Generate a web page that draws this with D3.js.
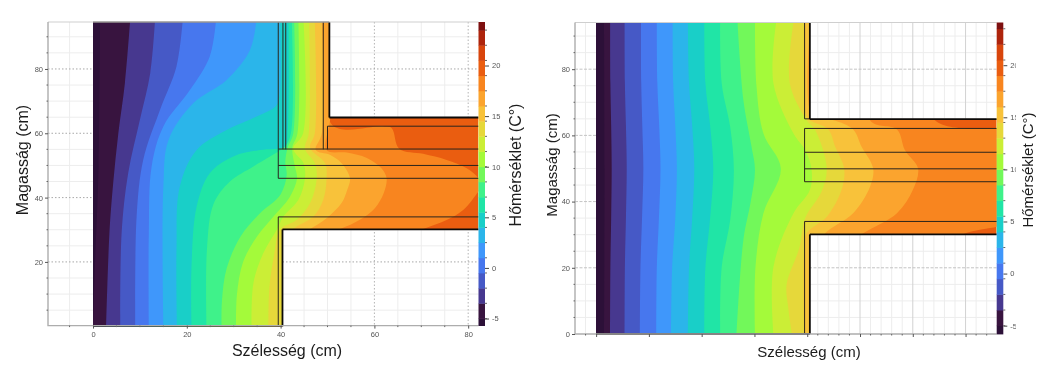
<!DOCTYPE html>
<html><head><meta charset="utf-8">
<script src="https://cdn.jsdelivr.net/npm/d3@7/dist/d3.min.js"></script>
<style>
html,body{margin:0;padding:0;background:#fff;overflow:hidden}
svg{display:block;filter:blur(0.4px)}
text{font-family:"Liberation Sans",Arial,sans-serif}
</style></head><body>
<svg id="chart" width="1046" height="366"></svg>
<script>
// ---------- values ----------
const xLabel = "Szélesség (cm)";
const yLabel = "Magasság (cm)";
const barLabel = "Hőmérséklet (C°)";
const xTickValues = [0,20,40,60,80];
const yTickValues = [20,40,60,80];
const yTickValuesRight = [0,20,40,60,80];
const barTickValues = [-5,0,5,10,15,20];
const isothermLevels = [-5,-3.5,-2,-0.5,1,2.5,4,5.5,7,8.5,10,11.5,13,14.5,16,17.5,19,20.5,22,23.5];
const bandColors = ["#2c1038","#38143f","#47388f","#4659c6","#4777ee","#3f97fb","#2bb5ea","#19cfc8","#20e5a6","#3ff28a","#72f85a","#a4fa3a","#cbee36","#e6d83a","#f8c23a","#fba42e","#f8851f","#ea5d10","#d8450c","#ae240c","#7d1010"];

const leftIsotherms = [
 [[1.5,94.7],[1.2,50],[0.4,18.6],[0,0]],
 [[7.9,94.7],[6.8,75.6],[5.4,60],[4.3,44.5],[3.5,29],[2.8,0]],
 [[13.2,94.7],[12.2,78.7],[10,64.2],[7.5,47.6],[6.1,29],[5.8,0]],
 [[19.1,94.7],[17.8,80.8],[14.3,67.3],[10.7,51.7],[9.3,34.1],[9,0]],
 [[26.2,94.7],[24.9,83.9],[20.7,73.5],[15,62.1],[12.5,49.7],[11.9,29],[11.9,0]],
 [[34.8,94.7],[33.5,86],[28.5,76.6],[21.4,69.4],[16.1,57.9],[15,43.4],[15,0]],
 [[39.9,94.7],[39.8,72],[39,68.5],[34.9,65.2],[28.5,61],[22.1,54.8],[18.5,43.4],[17.8,23.7],[17.9,0]],
 [[41.7,94.7],[41.5,60],[41,56],[35.6,54.8],[29.9,52.8],[24.9,47.6],[22.1,37.2],[21,18.6],[21,0]],
 [[42.4,94.7],[42.2,60],[41,56],[38,53],[34.2,49.7],[29.2,45],[25.7,38],[24.3,24],[24.2,0]],
 [[42.9,94.7],[42.7,60],[41.5,55.5],[41,51],[41.3,47],[40,41],[35.5,35],[31.5,28],[28.5,18],[27.5,8],[27.4,0]],
 [[43.8,94.7],[43.6,60],[42.5,55.5],[43,50],[43.5,46],[42,40.3],[38.4,34],[35,28],[32,20],[30.7,10],[30.5,0]],
 [[44.9,94.7],[44.8,60],[42.7,55.2],[44.9,50.7],[45.2,46],[43.8,39.3],[40.6,34.1],[39.2,30],[36.3,22.7],[34.2,13.4],[33.8,0]],
 [[46.1,94.7],[46,60],[45.2,55.2],[47.3,50.7],[47.7,46],[46.3,38.3],[43.4,33],[39.9,30],[38.6,22],[37.6,12],[37.4,0]],
 [[47.3,94.7],[47.3,60],[46.3,55.5],[49.5,50.7],[49.8,46],[49.1,39.3],[47,34.1],[42.7,30.2],[41.3,27],[41,10],[41,-5]],
 [[48.8,94.7],[48.8,60],[47.5,54.8],[50.5,53.3],[53,50.7],[54.8,46],[54.2,42.4],[53,38.3],[49.8,33.6],[46.3,30.2],[43,27],[42,20],[42,-5]],
 [[50.6,100],[50.6,65],[49.8,54.8],[54.1,54],[58.4,52.3],[61.5,49.1],[62.6,46],[62,41.4],[60.1,36.7],[56.9,33.1],[52.7,30.2],[47,27],[45,20],[45,-5]],
 [[51,100],[51,62.6],[62,62.2],[63.7,61.6],[65.3,55.2],[70.4,53.6],[75.4,51.7],[79.7,49.1],[82.2,46],[83,43.4],[82.2,41.9],[79,36.2],[75.4,33],[70.4,30.2],[67.6,28.4],[67.6,-5]]
];

const rightIsotherms = [
 [[1.5,94],[1.6,50],[1.5,0]],
 [[2.65,94],[2.7,76],[2.85,63],[2.95,50],[2.85,35],[2.7,20],[2.65,0]],
 [[5.4,94],[5.45,76],[5.65,63],[5.8,50],[5.65,35],[5.45,20],[5.4,0]],
 [[8.5,94],[8.55,76],[8.75,63],[8.95,50],[8.7,35],[8.4,20],[8.3,0]],
 [[11.5,94],[11.6,76],[11.95,63],[12.2,50],[11.9,35],[11.5,20],[11.4,0]],
 [[14.5,94],[14.6,76],[15,63],[15.3,50],[15,35],[14.4,20],[14.2,0]],
 [[17.4,94],[17.6,76],[18.2,63],[18.6,50],[18.2,35],[17.6,20],[17.4,0]],
 [[20.5,94],[20.7,76],[21.6,63],[22.2,50],[21.6,35],[20.7,20],[20.5,0]],
 [[23.5,94],[23.8,75.7],[25.4,62.6],[26.1,49.5],[25.4,34.4],[23.8,20.3],[23.5,0]],
 [[26.8,94],[27.9,70.7],[29.4,57],[30.1,49.5],[29.3,40],[27.9,28.4],[26.6,0]],
 [[30.1,94],[30.4,74.7],[31.7,60.6],[35,50],[31.7,36.5],[30.2,20.3],[30.1,0]],
 [[34.1,94],[33.6,75.7],[37.4,60.6],[39.6,55.6],[40.8,50],[40.5,43.5],[37.4,36.5],[33.6,20.3],[33.6,0]],
 [[37.4,94],[36.7,75.7],[39.9,64.6],[41.5,61.6],[43.7,50],[42.7,43],[39.6,35],[38.5,26],[36.1,15],[36.4,8],[37.1,0]],
 [[39.4,94],[39.4,75],[39.8,66],[40.5,64.6],[44,61.8],[45.3,56.6],[47,50],[46.5,43.5],[43.7,35.4],[39.9,30.4],[39.4,25],[39.4,0]],
 [[41,100],[41,65.5],[45,64.6],[48.7,61.8],[50.3,56.6],[52.5,50],[51.9,44.5],[48.7,36.5],[43.4,30.4],[41.5,25],[41.5,-5]],
 [[51.9,100],[51.9,64.6],[57,61.8],[58.5,55.6],[61,50],[60,43.5],[57,36.5],[50.6,30.4],[46,25],[46,-5]],
 [[63.9,100],[63.9,65],[75.9,62.1],[77,61.9],[78,50],[77,33],[75.9,32.4],[69.5,30.1],[65,25],[65,-5]]
];

const leftBody = [[0,0],[40.4,0],[40.4,30.1],[82.2,30.1],[82.2,64.9],[50.4,64.9],[50.4,94.6],[0,94.6]];
const rightBody = [[0,0],[40.5,0],[40.5,30.1],[75.9,30.1],[75.9,64.9],[40.5,64.9],[40.5,94.1],[0,94.1]];
// layer lines [x1,y1,x2,y2]
const leftThin = [[39.5,94.6,39.5,46],[39.5,34,39.5,0],[40.5,94.6,40.5,55],[41.1,94.6,41.1,55],[49.1,94.6,49.1,55],[50,62.2,50,55],
 [50,62.2,82.2,62.2],[39.5,55.1,82.2,55.1],[39.5,50,82.2,50],[39.5,46,82.2,46],[39.5,34,82.2,34],[0,0,40.4,0],[0,94.6,50.4,94.6]];
const leftThick = [[50.4,94.6,50.4,64.9],[50.4,64.9,82.2,64.9],[40.4,30.1,82.2,30.1],[40.4,30.1,40.4,0]];
const rightThin = [[39.5,94.1,39.5,65],[39.5,62.1,39.5,46],[39.5,34,39.5,0],[39.5,65,40.5,65],
 [39.5,62.1,75.9,62.1],[39.5,54.9,75.9,54.9],[39.5,49.9,75.9,49.9],[39.5,46,75.9,46],[39.5,34,75.9,34],[0,94.1,40.5,94.1]];
const rightThick = [[40.5,94.1,40.5,64.9],[40.5,64.9,75.9,64.9],[40.5,30.1,75.9,30.1],[40.5,30.1,40.5,0],[0,0,40.5,0]];

// ---------- drawing ----------
const svg = d3.select("#chart");

function panel(o){
  const g = svg.append("g");
  const x = d3.scaleLinear().domain(o.xDomain).range(o.xRange);
  const y = d3.scaleLinear().domain(o.yDomain).range(o.yRange);
  const [L,R] = o.xRange, [B,T] = o.yRange;
  const id = o.id;

  // minor + major grid
  o.xMinor.forEach(v=>g.append("line").attr("x1",x(v)).attr("x2",x(v)).attr("y1",T).attr("y2",B).attr("stroke","#ededed").attr("stroke-width",1));
  o.yMinor.forEach(v=>g.append("line").attr("x1",L).attr("x2",R).attr("y1",y(v)).attr("y2",y(v)).attr("stroke","#ededed").attr("stroke-width",1));
  o.xMajor.forEach(v=>g.append("line").attr("x1",x(v)).attr("x2",x(v)).attr("y1",T).attr("y2",B).attr("stroke",o.xMajorColor).attr("stroke-width",1).attr("stroke-dasharray",o.xDash));
  o.yMajor.forEach(v=>g.append("line").attr("x1",L).attr("x2",R).attr("y1",y(v)).attr("y2",y(v)).attr("stroke",o.yMajorColor).attr("stroke-width",1).attr("stroke-dasharray",o.yDash));

  // filled isotherm bands
  const outline = o.body.map(p=>[x(p[0]),y(p[1])]);
  g.append("clipPath").attr("id",id).append("path").attr("d",d3.line()(outline)+"Z");
  const field = g.append("g").attr("clip-path",`url(#${id})`);
  const line = d3.line().x(d=>x(d[0])).y(d=>y(d[1])).curve(d3.curveCatmullRom.alpha(0.5));
  const n = o.isotherms.length;
  field.append("rect").attr("x",L).attr("y",T).attr("width",R-L).attr("height",B-T).attr("fill",bandColors[n]);
  for(let i=n-1;i>=0;i--){
    const iso = o.isotherms[i];
    const a = iso[0], b = iso[iso.length-1];
    const d = line(iso)+`L${x(b[0])},${B+20}L${L-20},${B+20}L${L-20},${T-20}L${x(a[0])},${T-20}Z`;
    field.append("path").attr("d",d).attr("fill",bandColors[i]);
  }
  // layer lines
  o.thin.forEach(s=>g.append("line").attr("x1",x(s[0])).attr("y1",y(s[1])).attr("x2",x(s[2])).attr("y2",y(s[3])).attr("stroke","#2a241c").attr("stroke-width",1));
  o.thick.forEach(s=>g.append("line").attr("x1",x(s[0])).attr("y1",y(s[1])).attr("x2",x(s[2])).attr("y2",y(s[3])).attr("stroke","#0c0a08").attr("stroke-width",1.8));

  // spines
  g.append("path").attr("d",`M${L},${T}H${R}`).attr("stroke","#cfcfcf").attr("stroke-width",1).attr("fill","none");
  g.append("path").attr("d",`M${L},${T}V${B}H${R}`).attr("stroke","#adadad").attr("stroke-width",1.4).attr("fill","none");

  // axes
  const ax = g.append("g").attr("transform",`translate(0,${B})`)
    .call(d3.axisBottom(x).tickValues(o.xTicks).tickSize(3).tickPadding(3).tickFormat(o.xLabels?String:""));
  const ay = g.append("g").attr("transform",`translate(${L},0)`)
    .call(d3.axisLeft(y).tickValues(o.yTicks).tickSize(3).tickPadding(2).tickFormat(String));
  [ax,ay].forEach(a=>{a.select(".domain").remove();a.selectAll("line").attr("stroke","#555");a.selectAll("text").attr("fill","#555").attr("font-size",7.5);});
  o.xMinor.forEach(v=>g.append("line").attr("x1",x(v)).attr("x2",x(v)).attr("y1",B).attr("y2",B+1.5).attr("stroke","#666"));
  o.yMinor.forEach(v=>g.append("line").attr("x1",L-1.5).attr("x2",L).attr("y1",y(v)).attr("y2",y(v)).attr("stroke","#666"));

  // colour bar
  const cb = d3.scaleLinear().domain(o.barDomain).range(o.barRange);
  const edges = [o.barDomain[0],...isothermLevels,o.barDomain[1]];
  const [bx0,bx1] = o.barX;
  bandColors.forEach((c,i)=>g.append("rect").attr("x",bx0).attr("width",bx1-bx0).attr("y",cb(edges[i+1])).attr("height",cb(edges[i])-cb(edges[i+1])+0.4).attr("fill",c));
  g.append("clipPath").attr("id",id+"c").append("rect").attr("x",0).attr("y",T-5).attr("width",o.barLabelClip).attr("height",B-T+10);
  const ac = g.append("g").attr("transform",`translate(${bx1},0)`).attr("clip-path",`url(#${id}c)`)
    .call(d3.axisRight(cb).tickValues(barTickValues).tickSize(4).tickPadding(3).tickFormat(String));
  ac.select(".domain").remove();ac.selectAll("line").attr("stroke","#444");ac.selectAll("text").attr("fill","#555").attr("font-size",7.5);
  isothermLevels.forEach(v=>g.append("line").attr("x1",bx1).attr("x2",bx1+2).attr("y1",cb(v)).attr("y2",cb(v)).attr("stroke","#666"));

  // labels
  const lab = (t,px,py,rot)=>g.append("text").text(t).attr("text-anchor","middle").attr("font-size",o.fs).attr("fill","#1c1c1c")
     .attr("transform",`translate(${px},${py})${rot?" rotate(-90)":""}`);
  lab(xLabel,o.xLabelPos[0],o.xLabelPos[1],false);
  lab(yLabel,o.yLabelPos[0],o.yLabelPos[1],true);
  lab(barLabel,o.barLabelPos[0],o.barLabelPos[1],true);
}

panel({id:"l",xDomain:[-9.6,82.2],xRange:[48,478.5],yDomain:[0.2,94.6],yRange:[325.6,22],
  xMinor:[-5,5,10,15,25,30,35,45,50,55,65,70,75],yMinor:[5,10,15,25,30,35,45,50,55,65,70,75,85,90],
  xMajor:[60,80],yMajor:yTickValues,xDash:"1.5 2",yDash:"1.5 2",xMajorColor:"#b4b4b4",yMajorColor:"#a8a8a8",
  isotherms:leftIsotherms,body:leftBody,thin:leftThin,thick:leftThick,
  xTicks:xTickValues,yTicks:yTickValues,xLabels:true,
  barDomain:[-5.7,24.3],barRange:[325.6,22],barX:[478.5,485],barLabelClip:40,fs:16,
  xLabelPos:[287,356],yLabelPos:[28,160],barLabelPos:[521,165]});

panel({id:"r",xDomain:[-4,75.9],xRange:[575,996.7],yDomain:[0,94.1],yRange:[334,22.5],
  xMinor:[-2,42,44,46,48,52,54,56,58,62,64,66,68,72,74],yMinor:[5,10,15,25,30,35,45,50,55,65,70,75,85,90],
  xMajor:[50,60,70],yMajor:[20,40,60,80],xDash:null,yDash:"3 1.5",xMajorColor:"#d2d2d2",yMajorColor:"#c4c4c4",
  isotherms:rightIsotherms,body:rightBody,thin:rightThin,thick:rightThick,
  xTicks:[0,10,20,30,40,50,60,70],yTicks:yTickValuesRight,xLabels:false,
  barDomain:[-5.8,24.1],barRange:[334,22.5],barX:[996.7,1003.3],barLabelClip:12.5,fs:15,
  xLabelPos:[809,357],yLabelPos:[557,165],barLabelPos:[1033,170]});
</script>
</body></html>
